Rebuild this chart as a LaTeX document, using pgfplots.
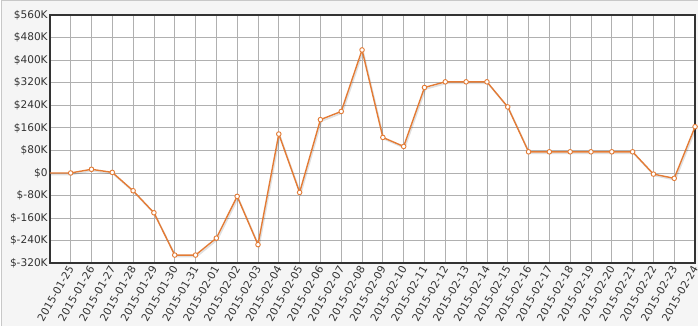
\documentclass[border=0pt]{standalone}
\usepackage{pgfplots}
\pgfplotsset{compat=1.18}
\usepackage{fontspec}
\setmainfont{DejaVu Sans}
\definecolor{bgout}{HTML}{F5F5F5}
\definecolor{frameg}{HTML}{C8C8C8}
\definecolor{band}{HTML}{F2F2F2}
\definecolor{gridc}{HTML}{B0B0B0}
\definecolor{axc}{HTML}{333333}
\definecolor{linec}{HTML}{E37B35}
\definecolor{txt}{HTML}{333333}
\pgfdeclarelayer{bg}
\pgfplotsset{layers/mylayers/.define layer set={bg,axis background,axis grid,axis ticks,axis lines,axis tick labels,pre main,main,axis descriptions,axis foreground}{}}
\begin{document}
\begin{tikzpicture}
\begin{axis}[
  at={(50pt,72pt)}, anchor=south west,
  scale only axis, width=647pt, height=249pt,
  set layers=mylayers,
  xmin=-1, xmax=30, ymin=-320, ymax=560,
  xtick={0,...,30},
  xticklabels={2015-01-25,2015-01-26,2015-01-27,2015-01-28,2015-01-29,2015-01-30,2015-01-31,2015-02-01,2015-02-02,2015-02-03,2015-02-04,2015-02-05,2015-02-06,2015-02-07,2015-02-08,2015-02-09,2015-02-10,2015-02-11,2015-02-12,2015-02-13,2015-02-14,2015-02-15,2015-02-16,2015-02-17,2015-02-18,2015-02-19,2015-02-20,2015-02-21,2015-02-22,2015-02-23,2015-02-24},
  ytick={-320,-240,...,560},
  yticklabel={\ifdim\tick pt=0pt \$0\else\$\pgfmathprintnumber{\tick}K\fi},
  /pgf/number format/assume math mode=true,
  xticklabel style={rotate=60, anchor=east, font=\fontsize{10.6}{12}\selectfont, text=txt, inner sep=1pt, xshift=-2pt, yshift=-2pt},
  yticklabel style={font=\fontsize{10.6}{12}\selectfont, text=txt, inner sep=1pt, xshift=-1pt},
  tick style={draw=none},
  grid=major,
  major grid style={gridc, line width=0.8pt},
  axis line style={axc, line width=1.8pt},
  axis background/.style={fill=white},
  clip=false,
]
\begin{pgfonlayer}{bg}
\fill[white] ([xshift=-50pt,yshift=-72pt]rel axis cs:0,0) rectangle ([xshift=3pt,yshift=15pt]rel axis cs:1,1);
\fill[bgout] ([xshift=-48.5pt,yshift=-63pt]rel axis cs:0,0) rectangle ([xshift=3pt,yshift=14pt]rel axis cs:1,1);
\draw[frameg,line width=1pt] ([xshift=-48.5pt,yshift=-63pt]rel axis cs:0,0) -- ([xshift=-48.5pt,yshift=14.5pt]rel axis cs:0,1) -- ([xshift=3pt,yshift=14.5pt]rel axis cs:1,1);
\end{pgfonlayer}
\begin{pgfonlayer}{axis background}
\fill[band] (axis cs:-1,400) rectangle (axis cs:30,480);
\fill[band] (axis cs:-1,240) rectangle (axis cs:30,320);
\fill[band] (axis cs:-1,80) rectangle (axis cs:30,160);
\fill[band] (axis cs:-1,-80) rectangle (axis cs:30,0);
\fill[band] (axis cs:-1,-240) rectangle (axis cs:30,-160);
\end{pgfonlayer}
\addplot[black, opacity=0.12, line width=1.6pt, no marks, xshift=1pt, yshift=-1.5pt] coordinates {
(-1,0)(0,0)(1,13)(2,2)(3,-63)(4,-141)(5,-291)(6,-291)(7,-231)(8,-83)(9,-254)(10,138)(11,-69)(12,189)(13,218)(14,436)(15,126)(16,94)(17,303)(18,323)(19,323)(20,323)(21,234)(22,75)(23,75)(24,75)(25,75)(26,75)(27,75)(28,-4)(29,-19)(30,164)};
\addplot[linec, line width=1.4pt, no marks] coordinates {
(-1,0)(0,0)(1,13)(2,2)(3,-63)(4,-141)(5,-291)(6,-291)(7,-231)(8,-83)(9,-254)(10,138)(11,-69)(12,189)(13,218)(14,436)(15,126)(16,94)(17,303)(18,323)(19,323)(20,323)(21,234)(22,75)(23,75)(24,75)(25,75)(26,75)(27,75)(28,-4)(29,-19)(30,164)};
\addplot[only marks, mark=*, mark size=2.3pt, mark options={fill=white, draw=linec, line width=0.9pt}] coordinates {
(0,0)(1,13)(2,2)(3,-63)(4,-141)(5,-291)(6,-291)(7,-231)(8,-83)(9,-254)(10,138)(11,-69)(12,189)(13,218)(14,436)(15,126)(16,94)(17,303)(18,323)(19,323)(20,323)(21,234)(22,75)(23,75)(24,75)(25,75)(26,75)(27,75)(28,-4)(29,-19)(30,164)};
\end{axis}
\end{tikzpicture}
\end{document}
